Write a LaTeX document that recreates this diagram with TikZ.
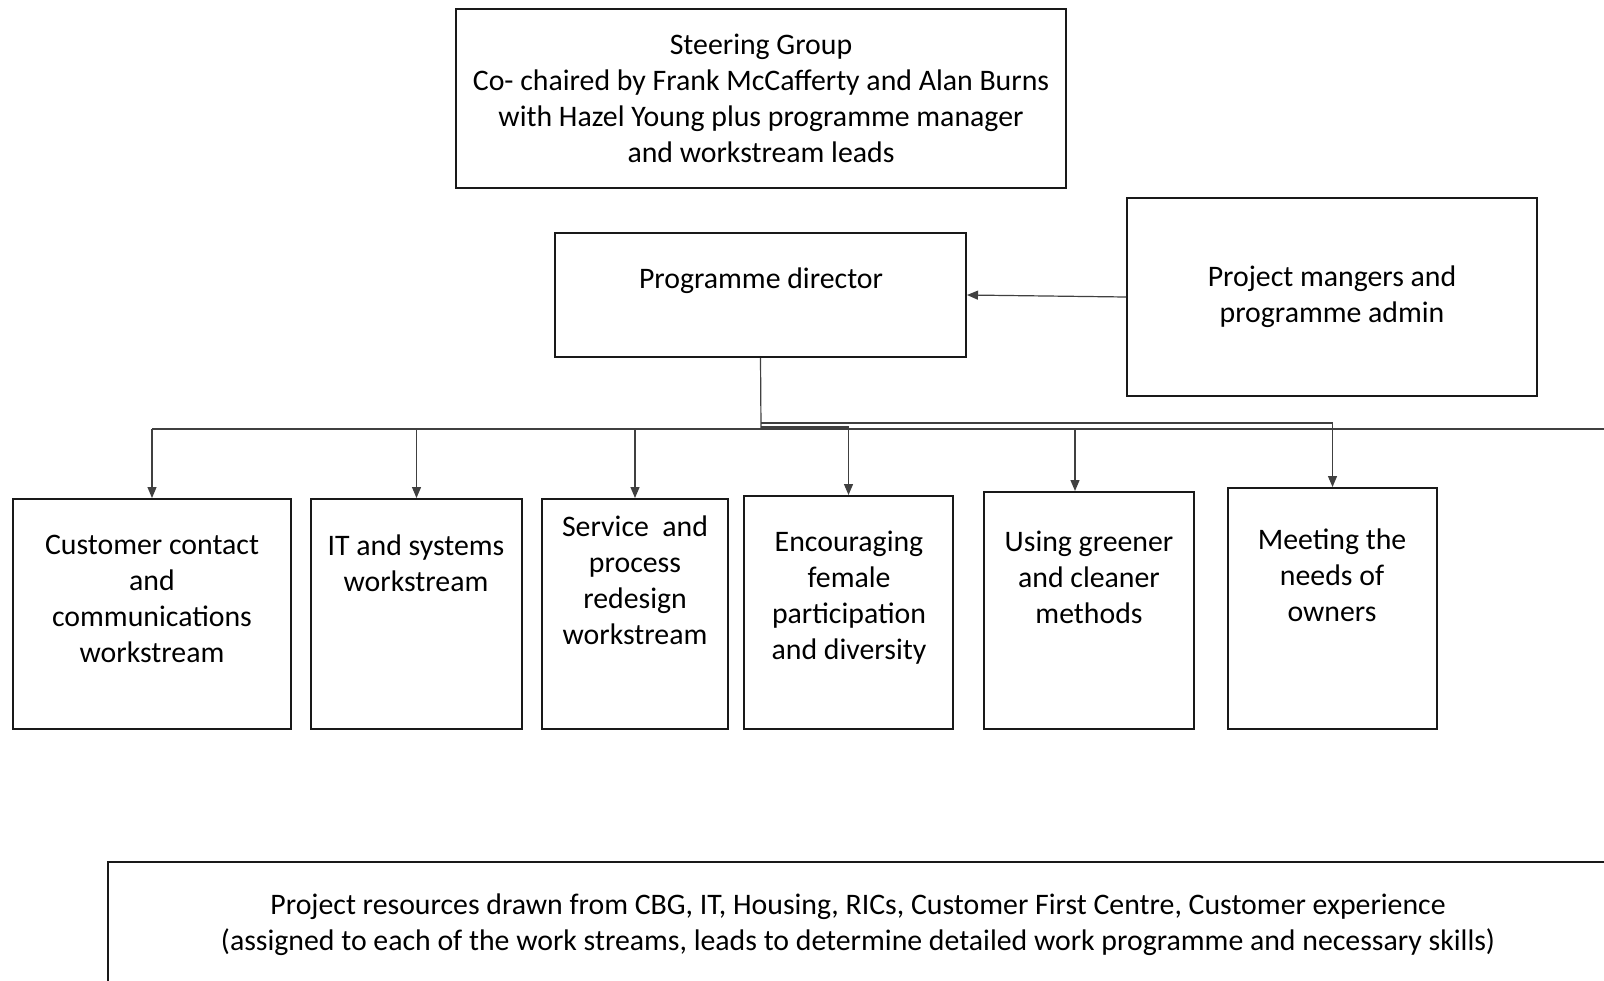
\documentclass[tikz,border=0pt]{standalone}
\usepackage{fontspec}
\setmainfont{Carlito}
\usetikzlibrary{arrows.meta}
\begin{document}
\begin{tikzpicture}[x=0.5pt,y=-0.5pt,
  box/.style={draw=black!90,line width=1pt,rectangle,inner sep=0pt},
  lbl/.style={inner sep=0pt,align=center,font=\fontsize{14.9}{18}\selectfont},
  conn/.style={draw=black!75,line width=0.6pt},
  arr/.style={conn,-{Triangle[length=5.5pt,width=4.5pt]}}]
\useasboundingbox (0,0) rectangle (1604,980);
\clip (0,0) rectangle (1604,980);
\fill[white] (0,0) rectangle (1604,980);
% boxes
\node[box,minimum width=305pt,minimum height=89.5pt,lbl] (sg) at (761,98.5)
  {Steering Group\\Co- chaired by Frank McCafferty and Alan Burns\\with Hazel Young plus programme manager\\and workstream leads};
\node[box,minimum width=205.5pt,minimum height=62pt] (pd) at (760.5,295) {};
\node[lbl] (pdt) at (761,281) {Programme director};
\node[box,minimum width=205pt,minimum height=99pt,lbl] (pm) at (1332,297)
  {Project mangers and\\programme admin};
\node[box,minimum width=139pt,minimum height=115pt] (b1) at (152,614) {};
\node[box,minimum width=105.5pt,minimum height=115pt] (b2) at (416.5,614) {};
\node[box,minimum width=93pt,minimum height=115pt] (b3) at (635,614) {};
\node[box,minimum width=104.5pt,minimum height=116.5pt] (b4) at (848.5,612.5) {};
\node[box,minimum width=105pt,minimum height=118.5pt] (b5) at (1089,610.5) {};
\node[box,minimum width=104.5pt,minimum height=120.5pt] (b6) at (1332.5,608.5) {};
\node[lbl] (t1) at (152,599) {Customer contact\\and\\communications\\workstream};
\node[lbl] (t2) at (416,563) {IT and systems\\workstream};
\node[lbl] (t3) at (635,580.5) {Service\ \ and\\process\\redesign\\workstream};
\node[lbl] (t4) at (849,598) {Encouraging\\female\\participation\\and diversity};
\node[lbl] (t5) at (1089,577) {Using greener\\and cleaner\\methods};
\node[lbl] (t6) at (1332,575) {Meeting the\\needs of\\owners};
\node[box,minimum width=750pt,minimum height=63pt,lbl] (res) at (858,925)
  {Project resources drawn from CBG, IT, Housing, RICs, Customer First Centre, Customer experience\\(assigned to each of the work streams, leads to determine detailed work programme and necessary skills)};
% connectors
\coordinate (hub) at (761,429);
\coordinate (lend) at (152,429);
\coordinate (rend) at (1604,429);
\draw[arr] (pm.west) -- (pd.east);
\draw[conn] (pd.south) -- (hub);
\draw[conn] (lend) -- (rend);
\draw[arr] (b1.north |- hub) -- (b1.north);
\draw[arr] (b2.north |- hub) -- (b2.north);
\draw[arr] (b3.north |- hub) -- (b3.north);
\draw[arr] ([yshift=1pt]hub) -| (b4.north);
\draw[arr] ([xshift=-7pt]b5.north |- hub) -- ([xshift=-7pt]b5.north);
\draw[arr] ([yshift=3pt]hub) -| (b6.north);
\end{tikzpicture}
\end{document}
